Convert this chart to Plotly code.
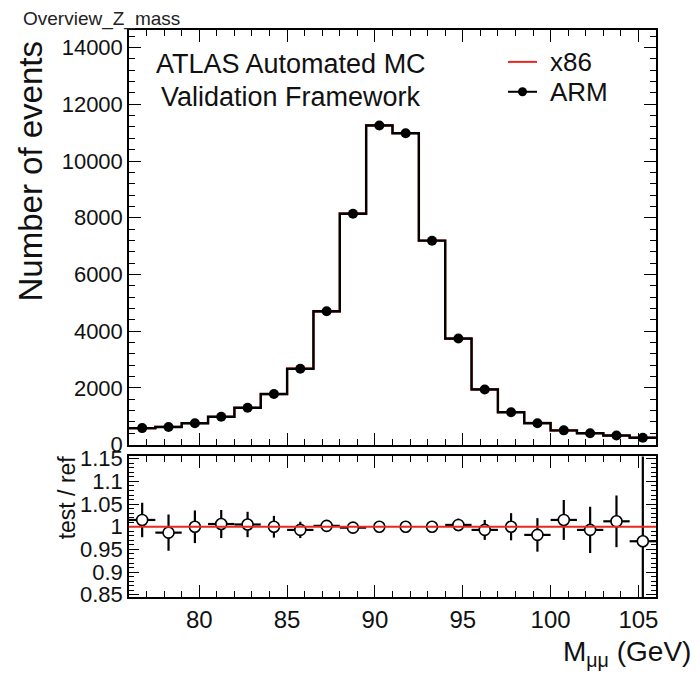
"""Z mass overview: x86 vs ARM histogram with ratio panel"""
import plotly.graph_objects as go

# bin edges of the M_mumu histogram (GeV)
bin_edges = [76 + 1.5 * i for i in range(21)]
bin_centers = [76.75, 78.25, 79.75, 81.25, 82.75, 84.25, 85.75, 87.25, 88.75, 90.25,
               91.75, 93.25, 94.75, 96.25, 97.75, 99.25, 100.75, 102.25, 103.75, 105.25]

# events per bin
arm_events = [580, 620, 750, 980, 1300, 1780, 2670, 4700, 8140, 11250,
              10980, 7190, 3740, 1940, 1140, 750, 500, 400, 320, 240]
x86_events = [571, 628, 750, 974, 1294, 1780, 2689, 4691, 8156, 11262,
              10980, 7190, 3725, 1954, 1140, 764, 493, 403, 316, 248]

# test / ref ratio with errors
ratio = [1.015, 0.987, 1.000, 1.006, 1.005, 1.000, 0.993, 1.002, 0.998, 1.000,
         1.000, 1.000, 1.004, 0.993, 1.000, 0.982, 1.015, 0.993, 1.012, 0.968]
ratio_err = [0.038, 0.040, 0.036, 0.031, 0.028, 0.024, 0.018, 0.013, 0.010, 0.008,
             0.008, 0.010, 0.014, 0.022, 0.030, 0.037, 0.044, 0.051, 0.057, 0.300]
ratio_xerr = [0.75, 0.75, 0, 0.75, 0.75, 0, 0.75, 0.75, 0.75, 0,
              0, 0, 0.75, 0.75, 0, 0.75, 0.75, 0.75, 0.75, 0.75]

FONT = "Liberation Sans, Arial, sans-serif"
W, H = 700, 683
OFF = 8  # page body margin
# plot frame in page pixels
LEFT, RIGHT, TOP, BOTTOM = 129, 656, 28, 597
L, T = LEFT - OFF, TOP - OFF
R, B = W - (RIGHT - OFF), H - (BOTTOM - OFF)
PW, PH = RIGHT - LEFT, BOTTOM - TOP


def px_x(x):
    return (x - LEFT) / PW


def px_y(y):
    return (BOTTOM - y) / PH


def step(values):
    return values + [values[-1]]


fig = go.Figure()

fig.add_trace(go.Scatter(
    x=bin_edges, y=step(x86_events), mode="lines", line_shape="hv",
    line={"color": "#e8281e", "width": 2.2}, showlegend=False,
    xaxis="x", yaxis="y",
))
fig.add_trace(go.Scatter(
    x=bin_edges, y=step(arm_events), mode="lines", line_shape="hv",
    line={"color": "black", "width": 2.4}, showlegend=False,
    xaxis="x", yaxis="y",
))
fig.add_trace(go.Scatter(
    x=bin_centers, y=arm_events, mode="markers",
    marker={"color": "black", "size": 10}, showlegend=False,
    xaxis="x", yaxis="y",
))
fig.add_trace(go.Scatter(
    x=bin_centers, y=ratio, mode="markers",
    marker={"color": "white", "size": 11, "line": {"color": "black", "width": 1.6}},
    error_y={"type": "data", "array": ratio_err, "color": "black", "thickness": 2.2, "width": 0},
    error_x={"type": "data", "array": ratio_xerr, "color": "black", "thickness": 2.2, "width": 0},
    showlegend=False, xaxis="x2", yaxis="y2",
))

tick_common = {
    "ticks": "inside", "showgrid": False, "zeroline": False,
    "showline": True, "linecolor": "black", "linewidth": 1.5, "mirror": "ticks",
    "tickcolor": "black", "tickwidth": 1.3, "ticklen": 12,
    "tickfont": {"family": FONT, "size": 22, "color": "#111"},
}

fig.update_layout(
    width=W, height=H,
    margin={"l": L, "r": R, "t": T, "b": B},
    plot_bgcolor="white", paper_bgcolor="white",
    font={"family": FONT},
    xaxis={**tick_common, "domain": [0, 1], "range": [76, 106], "dtick": 5,
           "showticklabels": False, "anchor": "y",
           "minor": {"dtick": 1, "ticklen": 6, "tickcolor": "black", "ticks": "inside"}},
    yaxis={**tick_common, "domain": [px_y(444), 1], "range": [0, 14620],
           "dtick": 2000, "tickformat": "d", "anchor": "x",
           "minor": {"dtick": 400, "ticklen": 6, "tickcolor": "black", "ticks": "inside"}},
    xaxis2={**tick_common, "domain": [0, 1], "range": [76, 106], "dtick": 5,
            "anchor": "y2", "matches": "x",
            "tickfont": {"family": FONT, "size": 24, "color": "#111"},
            "minor": {"dtick": 1, "ticklen": 6, "tickcolor": "black", "ticks": "inside"}},
    yaxis2={**tick_common, "domain": [0, px_y(456)], "range": [0.845, 1.155],
            "dtick": 0.05, "anchor": "x2", "ticklen": 10,
            "minor": {"dtick": 0.01, "ticklen": 5, "tickcolor": "black", "ticks": "inside"}},
)

# unity line in the ratio panel
fig.add_shape(type="line", xref="x2 domain", yref="y2", x0=0, x1=1, y0=1, y1=1,
              line={"color": "#e8281e", "width": 2})

# legend drawn by hand to get the ROOT look
fig.add_shape(type="line", xref="paper", yref="paper",
              x0=px_x(508), x1=px_x(537), y0=px_y(60), y1=px_y(60),
              line={"color": "#e8281e", "width": 2})
fig.add_shape(type="line", xref="paper", yref="paper",
              x0=px_x(508), x1=px_x(537), y0=px_y(90), y1=px_y(90),
              line={"color": "black", "width": 2})
fig.add_shape(type="circle", xref="paper", yref="paper",
              x0=px_x(518), x1=px_x(527), y0=px_y(94.5), y1=px_y(85.5),
              fillcolor="black", line={"color": "black", "width": 0})

annotations = [
    ("Overview_Z_mass", px_x(21), px_y(17), "left", 0, 19, "#222"),
    ("ATLAS Automated MC", px_x(291), px_y(62), "center", 0, 27, "#111"),
    ("Validation Framework", px_x(291), px_y(95), "center", 0, 27, "#111"),
    ("x86", px_x(548), px_y(60), "left", 0, 26, "#111"),
    ("ARM", px_x(548), px_y(90), "left", 0, 26, "#111"),
    ("Number of events", px_x(31), px_y(170), "center", -90, 33, "#111"),
    ("test / ref", px_x(67), px_y(497), "center", -90, 23, "#111"),
]
for text, x, y, anchor, angle, size, color in annotations:
    fig.add_annotation(
        text=text, x=x, y=y, xref="paper", yref="paper",
        xanchor=anchor, yanchor="middle", textangle=angle, showarrow=False,
        font={"family": FONT, "size": size, "color": color},
    )

fig.add_annotation(
    text="M<sub>μμ</sub> (GeV)", x=px_x(561), y=px_y(634), xref="paper", yref="paper",
    xanchor="left", yanchor="top", showarrow=False,
    font={"family": FONT, "size": 28, "color": "#111"},
)

fig.write_html("out.html")
